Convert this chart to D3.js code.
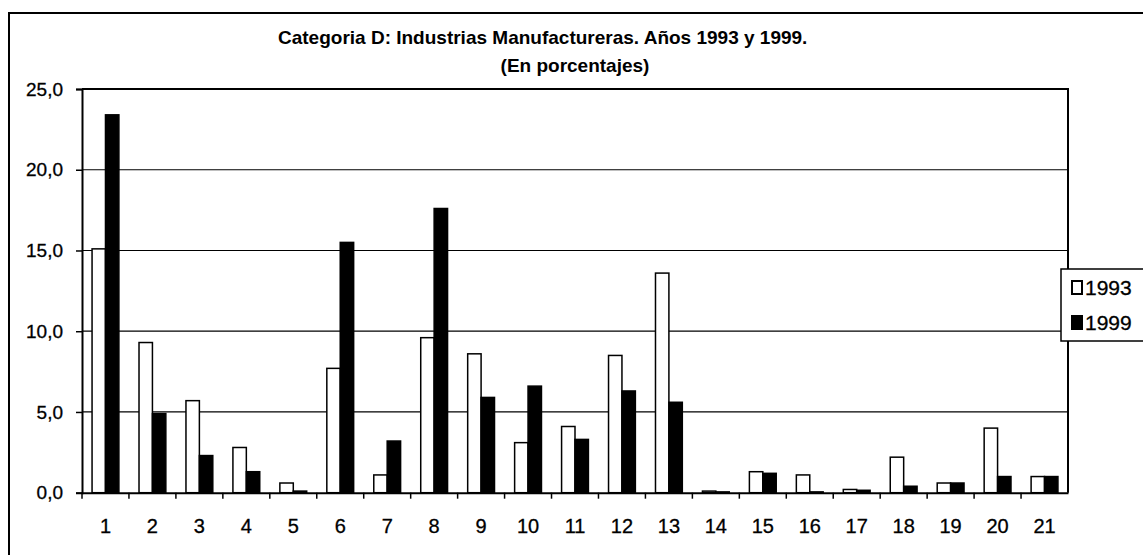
<!DOCTYPE html>
<html lang="es">
<head>
  <meta charset="UTF-8" />
  <title>Categoria D: Industrias Manufactureras</title>
  <script src="https://d3js.org/d3.v7.min.js"></script>
  <style>
    html, body { margin: 0; padding: 0; background: #fff; overflow: hidden; }
    svg { display: block; font-family: 'Liberation Sans', Arial, sans-serif; }
    .title { font-weight: bold; font-size: 19px; fill: #000; }
    .tick-label { font-size: 19px; fill: #000; stroke: #000; stroke-width: 0.3px; }
    .cat-label { font-size: 20px; fill: #000; stroke: #000; stroke-width: 0.3px; }
    .legend-label { font-size: 21px; fill: #000; stroke: #000; stroke-width: 0.3px; }
  </style>
</head>
<body>
<svg id="chart" width="1143" height="555"></svg>
<script>
  // data
  const categories = d3.range(1, 22).map(String);
  const series = ["1993", "1999"];
  const values1993 = [15.1, 9.3, 5.7, 2.8, 0.6, 7.7, 1.1, 9.6, 8.6, 3.1, 4.1, 8.5, 13.6, 0.1, 1.3, 1.1, 0.2, 2.2, 0.6, 4.0, 1.0];
  const values1999 = [23.4, 4.9, 2.3, 1.3, 0.1, 15.5, 3.2, 17.6, 5.9, 6.6, 3.3, 6.3, 5.6, 0.05, 1.2, 0.05, 0.15, 0.4, 0.6, 1.0, 1.0];
  const yTicks = [0, 5, 10, 15, 20, 25];

  const rows = categories.map((c, i) => ({ cat: c, "1993": values1993[i], "1999": values1999[i] }));
  const fmt = d3.formatLocale({ decimal: ",", thousands: ".", grouping: [3], currency: ["", ""] }).format(".1f");

  const svg = d3.select("#chart");
  const plot = { left: 82, right: 1068, top: 89, bottom: 492.7 };

  // outer chart frame (cropped on right/bottom)
  svg.append("path")
    .attr("d", `M9,560 V13 H1150`)
    .attr("fill", "none").attr("stroke", "#000").attr("stroke-width", 2);

  // title
  svg.append("text").attr("class", "title")
    .attr("x", 278).attr("y", 44).text("Categoria D: Industrias Manufactureras. Años 1993 y 1999.");
  svg.append("text").attr("class", "title")
    .attr("x", 575).attr("y", 72).attr("text-anchor", "middle").text("(En porcentajes)");

  const x0 = d3.scaleBand().domain(categories).range([plot.left, plot.right]).padding(0);
  const bw = x0.bandwidth();
  const gap = bw * 0.75 / 3.5;
  const x1 = d3.scaleBand().domain(series).range([gap, bw - gap]).padding(0);
  const y = d3.scaleLinear().domain([0, 25]).range([plot.bottom, plot.top]);

  // gridlines
  svg.append("g").selectAll("line")
    .data(yTicks.filter(d => d > 0 && d < 25))
    .join("line")
    .attr("x1", plot.left).attr("x2", plot.right)
    .attr("y1", d => y(d)).attr("y2", d => y(d))
    .attr("stroke", "#000").attr("stroke-width", 1.2);

  // plot frame
  svg.append("path")
    .attr("d", `M${plot.left},${y(25)} H${plot.right} V${plot.bottom}`)
    .attr("fill", "none").attr("stroke", "#000").attr("stroke-width", 2);

  // bars
  const groups = svg.append("g").selectAll("g")
    .data(rows)
    .join("g")
    .attr("transform", d => `translate(${x0(d.cat)},0)`);

  groups.selectAll("rect")
    .data(d => series.map(s => ({ s, v: d[s] })))
    .join("rect")
    .attr("x", d => x1(d.s))
    .attr("width", x1.bandwidth())
    .attr("y", d => y(d.v))
    .attr("height", d => y(0) - y(d.v))
    .attr("fill", d => d.s === "1993" ? "#fff" : "#000")
    .attr("stroke", "#000")
    .attr("stroke-width", 1.5);

  // y axis
  const yAxis = d3.axisLeft(y).tickValues(yTicks).tickFormat(fmt).tickSize(6).tickPadding(13);
  const gy = svg.append("g").attr("transform", `translate(${plot.left},0)`).call(yAxis);
  gy.select(".domain").attr("stroke-width", 2);
  gy.selectAll(".tick line").attr("stroke-width", 1.5);
  gy.selectAll(".tick text").attr("class", "tick-label").attr("font-size", null).attr("font-family", null);

  // x axis: ticks between categories
  const xAxis = d3.axisBottom(x0).tickSize(0).tickPadding(26);
  const gx = svg.append("g").attr("transform", `translate(0,${plot.bottom})`).call(xAxis);
  gx.select(".domain").attr("stroke-width", 2);
  gx.selectAll(".tick text").attr("class", "cat-label").attr("font-size", null).attr("font-family", null);
  gx.append("g").selectAll("line")
    .data(categories)
    .join("line")
    .attr("x1", d => x0(d)).attr("x2", d => x0(d))
    .attr("y1", 0).attr("y2", 6)
    .attr("stroke", "#000").attr("stroke-width", 1.5);

  // legend
  const legend = svg.append("g");
  legend.append("rect")
    .attr("x", 1061).attr("y", 269).attr("width", 100).attr("height", 72)
    .attr("fill", "#fff").attr("stroke", "#000").attr("stroke-width", 1.5);
  const items = legend.selectAll("g.item")
    .data(series)
    .join("g").attr("class", "item")
    .attr("transform", (d, i) => `translate(1072,${281 + i * 35})`);
  items.append("rect")
    .attr("width", 10).attr("height", 13)
    .attr("fill", d => d === "1993" ? "#fff" : "#000")
    .attr("stroke", "#000").attr("stroke-width", 2);
  items.append("text").attr("class", "legend-label")
    .attr("x", 13).attr("y", 14).text(d => d);
</script>
</body>
</html>
